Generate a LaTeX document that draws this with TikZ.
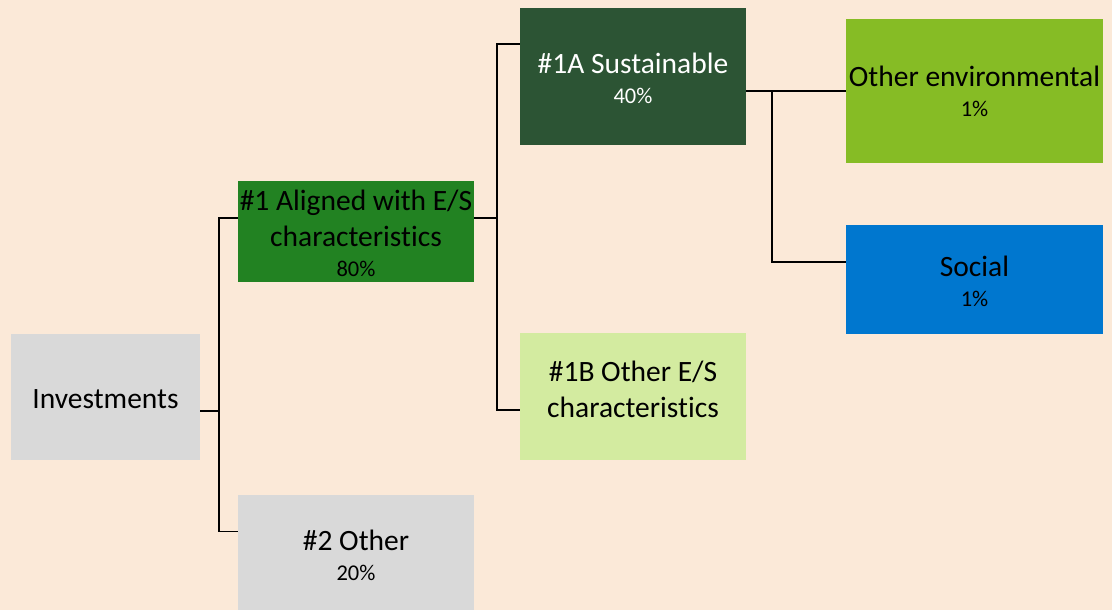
\documentclass[tikz,border=0pt]{standalone}
\usepackage{fontspec}
\setmainfont[Ligatures=NoCommon]{Carlito}
\definecolor{bgc}{RGB}{251,233,216}
\definecolor{greyc}{RGB}{217,217,217}
\definecolor{alignc}{RGB}{34,130,34}
\definecolor{sustc}{RGB}{44,84,52}
\definecolor{lightgc}{RGB}{211,235,160}
\definecolor{envc}{RGB}{134,188,37}
\definecolor{socc}{RGB}{0,119,207}
\newcommand{\pct}[1]{\\[-6pt]{\fontsize{22.5}{27}\selectfont #1}}
\begin{document}
\begin{tikzpicture}[x=1pt,y=-1pt,
  box/.style={rectangle, inner sep=0pt},
  txt/.style={inner sep=0pt, align=center, font=\fontsize{29.5}{36}\selectfont, text=black},
  conn/.style={draw=black, line width=1.8pt}]
\fill[bgc] (0,0) rectangle (1112,610);
\useasboundingbox (0,0) rectangle (1112,610);
% boxes
\node[box, fill=greyc, minimum width=189pt, minimum height=126pt,
  label={[txt, yshift=-3pt]center:Investments}] (inv) at (105.5,396.5) {};
\node[box, fill=alignc, minimum width=236pt, minimum height=101pt,
  label={[txt, yshift=-2pt]center:{\#1 Aligned with E/S\\characteristics\pct{80\%}}}] (al) at (356,231.5) {};
\node[box, fill=greyc, minimum width=236pt, minimum height=115pt,
  label={[txt, yshift=-3pt]center:{\#2 Other\pct{20\%}}}] (oth) at (356,552.5) {};
\node[box, fill=sustc, minimum width=226pt, minimum height=137pt,
  label={[txt, text=white, yshift=-1.5pt]center:{\#1A Sustainable\pct{40\%}}}] (sus) at (633,76.5) {};
\node[box, fill=lightgc, minimum width=226pt, minimum height=127pt,
  label={[txt, yshift=7pt]center:{\#1B Other E/S\\characteristics}}] (esb) at (633,396.5) {};
\node[box, fill=envc, minimum width=257pt, minimum height=144pt,
  label={[txt, yshift=-0.5pt]center:{Other environmental\pct{1\%}}}] (env) at (974.5,91) {};
\node[box, fill=socc, minimum width=257pt, minimum height=109pt,
  label={[txt, yshift=-2pt]center:{Social\pct{1\%}}}] (soc) at (974.5,279.5) {};
% connector points
\coordinate (invout) at ([yshift=-14.5pt]inv.east);
\coordinate (alin) at ([yshift=13.5pt]al.west);
\coordinate (othin) at ([yshift=21pt]oth.west);
\coordinate (alout) at ([yshift=13.5pt]al.east);
\coordinate (susin) at ([yshift=32.5pt]sus.west);
\coordinate (esbin) at ([yshift=-13.5pt]esb.west);
\coordinate (susout) at ([yshift=-14.5pt]sus.east);
\coordinate (socin) at ([yshift=17.5pt]soc.west);
% connectors
\draw[conn] (invout) -- (219,411);
\draw[conn] (alin) -| (219,411) |- (othin);
\draw[conn] (alout) -- (497,218);
\draw[conn] (susin) -| (497,218) |- (esbin);
\draw[conn] (susout) -- (env.west);
\draw[conn] (772,91) |- (socin);
\end{tikzpicture}
\end{document}
